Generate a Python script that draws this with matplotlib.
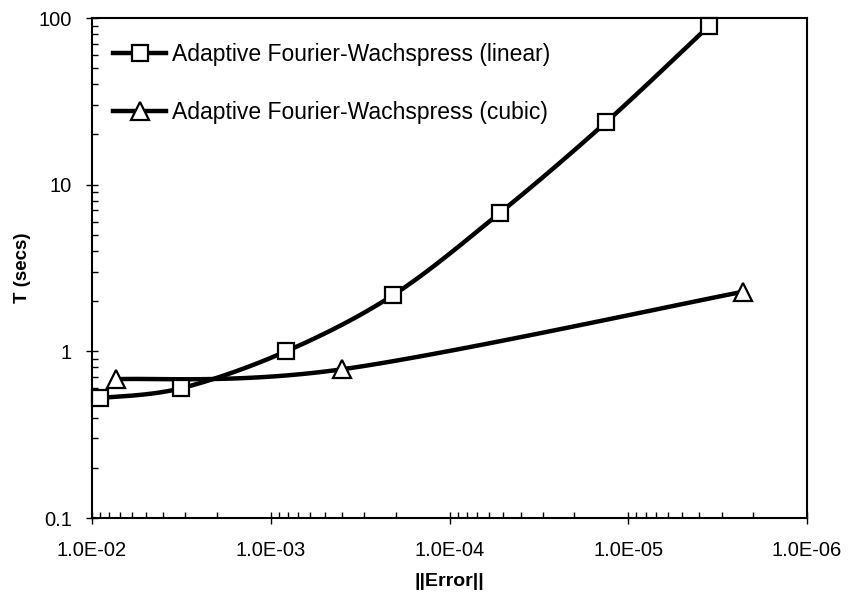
import numpy as np
import matplotlib
matplotlib.use('Agg')
import matplotlib.pyplot as plt
from matplotlib.ticker import LogLocator, FixedLocator, NullFormatter

plt.rcParams['font.family'] = ['Liberation Sans', 'DejaVu Sans']

# data
err_lin = [9.0e-3, 3.18e-3, 8.2e-4, 2.06e-4, 5.2e-5, 1.33e-5, 3.52e-6]
t_lin = [0.525, 0.60, 1.0, 2.18, 6.8, 23.7, 90.0]
err_cub = [7.3e-3, 4.0e-4, 2.27e-6]
t_cub = [0.68, 0.78, 2.28]

x_ticks = [1e-2, 1e-3, 1e-4, 1e-5, 1e-6]
x_labels = ['1.0E-02', '1.0E-03', '1.0E-04', '1.0E-05', '1.0E-06']
y_ticks = [0.1, 1, 10, 100]
y_labels = ['0.1', '1', '10', '100']


def smooth(x, y, n=40):
    # Excel-like smoothed line: bezier through points, done in log space
    lx, ly = np.log10(x), np.log10(y)
    P = np.column_stack([lx, ly])
    P = np.vstack([P[0], P, P[-1]])
    out = []
    for i in range(1, len(P) - 2):
        p0, p1, p2, p3 = P[i - 1], P[i], P[i + 1], P[i + 2]
        c1 = p1 + (p2 - p0) / 6
        c2 = p2 - (p3 - p1) / 6
        t = np.linspace(0, 1, n)[:, None]
        seg = (1 - t) ** 3 * p1 + 3 * (1 - t) ** 2 * t * c1 + 3 * (1 - t) * t ** 2 * c2 + t ** 3 * p2
        out.append(seg)
    s = np.vstack(out)
    return 10 ** s[:, 0], 10 ** s[:, 1]


fig = plt.figure(figsize=(8.5, 5.97), dpi=100)
ax = fig.add_axes([92 / 850, 1 - 518 / 597, (807 - 92) / 850, (518 - 18) / 597])

for xs, ys, mk, lab in [(err_lin, t_lin, 's', 'Adaptive Fourier-Wachspress (linear)'),
                        (err_cub, t_cub, '^', 'Adaptive Fourier-Wachspress (cubic)')]:
    ms = 11 if mk == 's' else 12.5
    sx, sy = smooth(xs, ys)
    ax.plot(sx, sy, color='black', lw=3.2, solid_capstyle='butt', zorder=2)
    ax.plot(xs, ys, ls='none', marker=mk, ms=ms, mfc='white',
            mec='black', mew=1.6, zorder=3, clip_on=False)
    ax.plot([], [], color='black', lw=3.2, marker=mk, ms=ms,
            mfc='white', mec='black', mew=1.6, label=lab)

ax.set_xscale('log')
ax.set_yscale('log')
ax.set_xlim(1e-2, 1e-6)
ax.set_ylim(0.1, 100)

ax.xaxis.set_major_locator(FixedLocator(x_ticks))
ax.set_xticklabels(x_labels)
ax.yaxis.set_major_locator(FixedLocator(y_ticks))
ax.set_yticklabels(y_labels)
ax.xaxis.set_minor_locator(LogLocator(base=10, subs=np.arange(2, 10)))
ax.yaxis.set_minor_locator(LogLocator(base=10, subs=np.arange(2, 10)))
ax.xaxis.set_minor_formatter(NullFormatter())
ax.yaxis.set_minor_formatter(NullFormatter())

ax.tick_params(which='both', top=False, right=False, labelsize=14.5, width=1)
ax.tick_params(which='major', direction='inout', length=9)
ax.tick_params(which='minor', direction='in', length=4)
ax.tick_params(axis='x', which='major', pad=12)
ax.tick_params(axis='y', which='major', pad=10)
for sp in ax.spines.values():
    sp.set_linewidth(1.5)

ax.set_xlabel('||Error||', fontsize=14, fontweight='bold')
ax.set_ylabel('T (secs)', fontsize=13.5, fontweight='bold')
ax.xaxis.set_label_coords(0.5, -0.11)
ax.yaxis.set_label_coords(-0.085, 0.5)

ax.legend(loc='upper left', frameon=False, fontsize=16.5, handlelength=2.35,
          handletextpad=0.22, labelspacing=1.5, borderaxespad=0.0,
          bbox_to_anchor=(0.016, 0.968))

fig.savefig('out.png', dpi=100)
